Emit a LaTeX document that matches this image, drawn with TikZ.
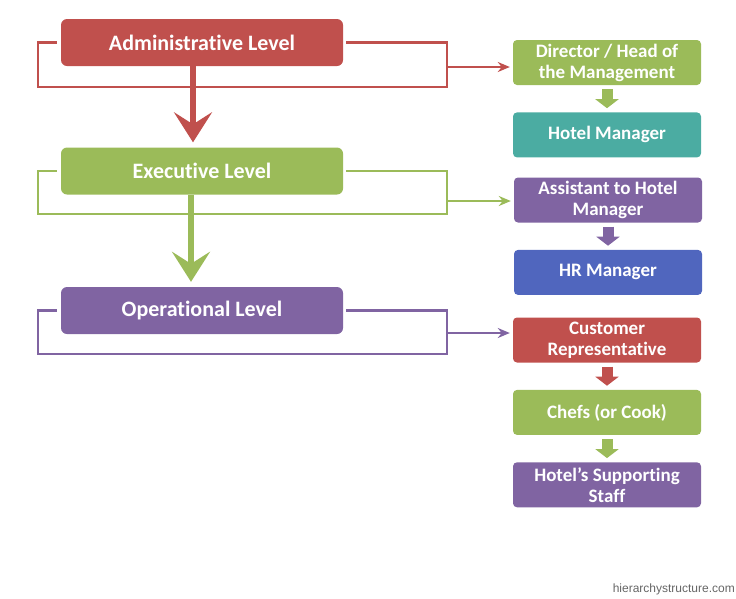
\documentclass[tikz,border=0pt]{standalone}
\usepackage{fontspec}
\setmainfont{Carlito}[Ligatures=NoCommon]
\newfontfamily\webfont{Liberation Sans}
\usepackage{xcolor}
\usetikzlibrary{arrows.meta,positioning}

\definecolor{lvred}{RGB}{192,80,77}
\definecolor{lvgreen}{RGB}{155,187,89}
\definecolor{lvpurple}{RGB}{128,100,162}
\definecolor{lvteal}{RGB}{75,172,162}
\definecolor{lvblue}{RGB}{80,102,190}

\begin{document}
\begin{tikzpicture}[
      x=1pt,y=-1pt,
      levelbox/.style={
         rectangle,
         rounded corners=6pt,
         fill=#1,
         text=white,
         inner sep=2pt,
         minimum width=282pt,
         minimum height=47pt,
         font=\fontsize{22}{26}\selectfont\bfseries},
      rolebox/.style={
         rectangle,
         rounded corners=4pt,
         fill=#1,
         text=white,
         align=center,
         inner sep=1pt,
         minimum width=188pt,
         minimum height=45pt,
         font=\fontsize{19}{21}\selectfont\bfseries},
      bracket/.style={draw=#1, line width=2.2pt},
      sidearrow/.style={#1, line width=2.2pt, -{Stealth[length=12pt,width=10pt]}, shorten >=3pt},
      bigarrow/.style={#1, line width=6pt, -{Stealth[length=30pt,width=38pt,inset=12pt]}, shorten >=5pt},
      blockarrow/.style={#1, line width=11pt, -{Triangle[length=9pt,width=23pt]}, shorten >=4pt, shorten <=4pt},
      node distance=27pt
      ]
\useasboundingbox (0,0) rectangle (736,598);

% levels
\node[levelbox=lvred   ] (adm) at (202,42.5) {Administrative Level};
\node[levelbox=lvgreen ] (exe) at (202,171)  {Executive Level};
\node[levelbox=lvpurple] (ops) at (202,310.5){Operational Level};

% right column
\node[rolebox=lvgreen ] (dir)   at (607,62.5) {Director / Head of\\the Management};
\node[rolebox=lvteal,  below=of dir] (hotmgr) {Hotel Manager};
\node[rolebox=lvpurple] (asst)  at (608,200)  {Assistant to Hotel\\Manager};
\node[rolebox=lvblue,  below=of asst] (hrmgr) {HR Manager};
\node[rolebox=lvred   ] (cust)  at (607,340)  {Customer\\Representative};
\node[rolebox=lvgreen, below=of cust] (chefs) {Chefs (or Cook)};
\node[rolebox=lvpurple, below=of chefs] (staff) {Hotel’s Supporting\\Staff};

% brackets round each level
\coordinate (lx) at (38,0);
\coordinate (rx) at (447,0);
\foreach \lv/\col/\low in {adm/lvred/87,exe/lvgreen/214,ops/lvpurple/354}{
   \draw[bracket=\col] ([xshift=-4pt]\lv.west) -- (\lv.west -| lx) -- (38,\low)
        -- (447,\low) -- (\lv.east -| rx) -- ([xshift=3pt]\lv.east);
}
\coordinate (adm-r) at (447,67);
\coordinate (exe-r) at (447,201);
\coordinate (ops-r) at (447,333);
\draw[sidearrow=lvred   ] (adm-r) -- (adm-r -| dir.west);
\draw[sidearrow=lvgreen ] (exe-r) -- (exe-r -| asst.west);
\draw[sidearrow=lvpurple] (ops-r) -- (ops-r -| cust.west);

% level to level
\draw[bigarrow=lvred  ] ([xshift=-9pt]adm.south) -- ([xshift=-9pt]exe.north);
\draw[bigarrow=lvgreen] ([xshift=-11pt]exe.south) -- ([xshift=-11pt]ops.north);

% inside the right column
\foreach \i/\j/\col in {% start node/end node/colour
      dir/hotmgr/lvgreen,asst/hrmgr/lvpurple,cust/chefs/lvred,chefs/staff/lvgreen}
       \draw[blockarrow=\col] (\i) -- (\j);

\node[anchor=south east, inner sep=0pt, text=black!60, font=\webfont\fontsize{12}{14}\selectfont] (site) at (735,595) {hierarchystructure.com};
\end{tikzpicture}
\end{document}
